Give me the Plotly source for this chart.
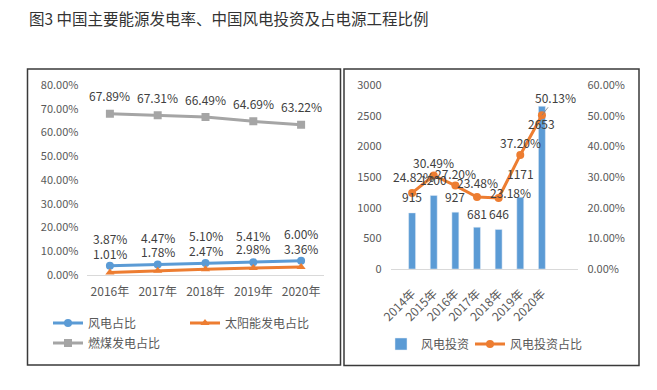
import plotly.graph_objects as go

# ---------------- data ----------------
years_left = ["2016年", "2017年", "2018年", "2019年", "2020年"]
wind_share = [0.0387, 0.0447, 0.0510, 0.0541, 0.0600]
solar_share = [0.0101, 0.0178, 0.0247, 0.0298, 0.0336]
coal_share = [0.6789, 0.6731, 0.6649, 0.6469, 0.6322]

years_right = ["2014年", "2015年", "2016年", "2017年", "2018年", "2019年", "2020年"]
wind_invest = [915, 1200, 927, 681, 646, 1171, 2653]
wind_invest_ratio = [0.2482, 0.3049, 0.2720, 0.2348, 0.2318, 0.3720, 0.5013]

title_text = "图3 中国主要能源发电率、中国风电投资及占电源工程比例"

# ---------------- style ----------------
OFF = 8  # page body margin
W, H = 657 - OFF, 390 - OFF
FONT = "Noto Sans CJK SC"
BLUE = "#5B9BD5"
ORANGE = "#ED7D31"
GRAY = "#A5A5A5"
TICK = "#595959"
LABEL = "#404040"

def px(x):
    return (x - OFF) / W

def py(y):
    return 1 - (y - OFF) / H

fig = go.Figure()

# left panel lines
fig.add_trace(go.Scatter(x=years_left, y=wind_share, name="风电占比", mode="lines+markers",
                         line=dict(color=BLUE, width=3), marker=dict(symbol="circle", size=8, color=BLUE),
                         xaxis="x", yaxis="y", legend="legend"))
fig.add_trace(go.Scatter(x=years_left, y=solar_share, name="太阳能发电占比", mode="lines+markers",
                         line=dict(color=ORANGE, width=3), marker=dict(symbol="triangle-up", size=8, color=ORANGE),
                         xaxis="x", yaxis="y", legend="legend"))
fig.add_trace(go.Scatter(x=years_left, y=coal_share, name="燃煤发电占比", mode="lines+markers",
                         line=dict(color=GRAY, width=3), marker=dict(symbol="square", size=8, color=GRAY),
                         xaxis="x", yaxis="y", legend="legend2"))

# right panel
fig.add_trace(go.Bar(x=years_right, y=wind_invest, name="风电投资", marker_color=BLUE, width=0.32,
                     xaxis="x2", yaxis="y2", legend="legend3"))
fig.add_trace(go.Scatter(x=years_right, y=wind_invest_ratio, name="风电投资占比", mode="lines+markers",
                         line=dict(color=ORANGE, width=3), marker=dict(symbol="circle", size=8, color=ORANGE),
                         xaxis="x2", yaxis="y3", legend="legend4"))

ann = []
lab_font = dict(family=FONT, size=12, color=LABEL)
for xs, ys, dy in ((years_left, coal_share, 18), (years_left, wind_share, 27), (years_left, solar_share, 19)):
    for xv, yv in zip(xs, ys):
        ann.append(dict(x=xv, y=yv, xref="x", yref="y", text=f"{yv*100:.2f}%", showarrow=False,
                        yshift=dy, font=lab_font))

bar_dy = [16, 16, 16, 14, 16, 24, -17]
for xv, yv, dy in zip(years_right, wind_invest, bar_dy):
    ann.append(dict(x=xv, y=yv, xref="x2", yref="y2", text=str(yv), showarrow=False,
                    yshift=dy, font=lab_font))

line_off = [(1, 16), (0, 13), (0, 12), (0, 14), (12, 5), (0, 12)]
for xv, yv, (dx, dy) in zip(years_right[:-1], wind_invest_ratio[:-1], line_off):
    ann.append(dict(x=xv, y=yv, xref="x2", yref="y3", text=f"{yv*100:.2f}%", showarrow=False,
                    xshift=dx, yshift=dy, font=lab_font))
ann.append(dict(x=years_right[-1], y=wind_invest_ratio[-1], xref="x2", yref="y3",
                text=f"{wind_invest_ratio[-1]*100:.2f}%", showarrow=True, arrowhead=0,
                arrowwidth=0.8, arrowcolor="#7F7F7F", ax=14, ay=-18, font=lab_font))

ann.append(dict(x=px(27), y=py(18), xref="paper", yref="paper", xanchor="left", yanchor="middle",
                text=title_text, showarrow=False, font=dict(family=FONT, size=15.5, color="#333333")))

shapes = [
    dict(type="rect", xref="paper", yref="paper", x0=px(27.5), x1=px(340.5), y0=py(365), y1=py(69),
         line=dict(color="#3A3A3A", width=1.5)),
    dict(type="rect", xref="paper", yref="paper", x0=px(344), x1=px(639), y0=py(365.5), y1=py(69),
         line=dict(color="#3A3A3A", width=1.5)),
]

tick_font = dict(family=FONT, size=11, color=TICK)
leg_font = dict(family=FONT, size=12, color=TICK)

fig.update_layout(
    width=W, height=H, margin=dict(l=0, r=0, t=0, b=0, autoexpand=False),
    paper_bgcolor="white", plot_bgcolor="white",
    font=dict(family=FONT, color=TICK),
    annotations=ann, shapes=shapes,
    xaxis=dict(domain=[px(87.4), px(323.6)], anchor="y", showgrid=False, showline=True,
               linecolor="#D9D9D9", linewidth=1, ticks="", tickfont=dict(family=FONT, size=12, color=TICK),
               ticklabelstandoff=6),
    yaxis=dict(domain=[py(275), py(85)], anchor="x", range=[0, 0.8], dtick=0.1, tickformat=".2%",
               showgrid=False, zeroline=False, showline=False, tickfont=tick_font, ticklabelstandoff=8),
    xaxis2=dict(domain=[px(390.6), px(578.4)], anchor="y2", showgrid=False, showline=True,
                linecolor="#D9D9D9", linewidth=1, ticks="", tickangle=-45,
                tickfont=dict(family=FONT, size=12, color=TICK), ticklabelstandoff=12),
    yaxis2=dict(domain=[py(269), py(85)], anchor="x2", range=[0, 3000], dtick=500,
                showgrid=False, zeroline=False, showline=False, tickfont=tick_font, ticklabelstandoff=8),
    yaxis3=dict(domain=[py(269), py(85)], anchor="x2", overlaying="y2", side="right", range=[0, 0.6],
                dtick=0.1, tickformat=".2%", showgrid=False, zeroline=False, showline=False,
                tickfont=tick_font, ticklabelstandoff=8),
    legend=dict(orientation="h", x=px(48), y=py(323), xanchor="left", yanchor="middle",
                font=leg_font, entrywidth=92, entrywidthmode="pixels", bgcolor="rgba(0,0,0,0)"),
    legend2=dict(orientation="h", x=px(48), y=py(343), xanchor="left", yanchor="middle",
                 font=leg_font, bgcolor="rgba(0,0,0,0)"),
    legend3=dict(orientation="h", x=px(381), y=py(344), xanchor="left", yanchor="middle",
                 font=leg_font, bgcolor="rgba(0,0,0,0)"),
    legend4=dict(orientation="h", x=px(470), y=py(344), xanchor="left", yanchor="middle",
                 font=leg_font, bgcolor="rgba(0,0,0,0)"),
    showlegend=True,
)

fig.write_html("out.html")
